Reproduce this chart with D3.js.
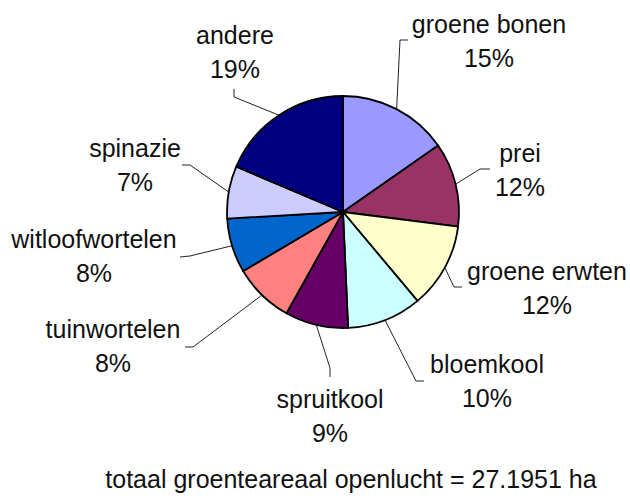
<!DOCTYPE html>
<html lang="nl">
<head>
    <meta charset="UTF-8">
    <title>Groenteareaal openlucht</title>
    <script src="https://d3js.org/d3.v7.min.js"></script>
    <style>
        body { margin: 0; background: #fff; font-family: "Liberation Sans", Arial, sans-serif; }
        .label { font-size: 25px; fill: #111; text-anchor: middle; }
        .leader { fill: none; stroke: #222; stroke-width: 1; }
        .slice { stroke: #000; stroke-width: 1.8; }
    </style>
</head>
<body>
    <svg width="630" height="500"></svg>
    <script>
        // data (share of area, %)
        const categories = ["groene bonen", "prei", "groene erwten", "bloemkool", "spruitkool",
                            "tuinwortelen", "witloofwortelen", "spinazie", "andere"];
        const values = [15.3, 11.7, 11.9, 10.4, 8.8, 8.4, 7.6, 7.3, 18.6];
        const colors = ["#9999FF", "#993366", "#FFFFCC", "#CCFFFF", "#660066",
                        "#FF8080", "#0066CC", "#CCCCFF", "#000080"];
        const footer = "totaal groenteareaal openlucht = 27.1951 ha";

        // label placement (layout only): text centre x, first baseline y, leader elbow
        const labelLayout = [
            { x: 489, y: 33,  elbow: [[408, 40], [400, 40]] },
            { x: 520, y: 162, elbow: [[490, 169], [480, 169]] },
            { x: 547, y: 280, elbow: [[462, 287], [454, 287]] },
            { x: 487, y: 373, elbow: [[424, 381], [416, 381]] },
            { x: 330, y: 408, elbow: [[330, 377], [330, 368]] },
            { x: 113, y: 338, elbow: [[185, 347], [193, 347]] },
            { x: 94,  y: 248, elbow: [[180, 257], [190, 256]] },
            { x: 135, y: 157, elbow: [[182, 165], [190, 165]] },
            { x: 235, y: 44,  elbow: [[234, 89], [234, 97]] }
        ];

        const cx = 343, cy = 212, r = 116;
        const svg = d3.select("svg");
        const g = svg.append("g").attr("transform", `translate(${cx},${cy})`);

        const total = d3.sum(values);
        const pie = d3.pie().sort(null).value(d => d)(values);
        const arc = d3.arc().innerRadius(0).outerRadius(r);

        g.selectAll("path.slice")
         .data(pie)
         .enter().append("path")
         .attr("class", "slice")
         .attr("fill", (d, i) => colors[i])
         .attr("d", arc);

        // leader lines: from label elbow to the pie edge at the slice's mid angle
        pie.forEach((d, i) => {
            const mid = (d.startAngle + d.endAngle) / 2;
            const edge = [cx + r * Math.sin(mid), cy - r * Math.cos(mid)];
            const pts = labelLayout[i].elbow.concat([edge]);
            svg.append("path")
               .attr("class", "leader")
               .attr("d", d3.line()(pts));
        });

        // labels
        pie.forEach((d, i) => {
            const L = labelLayout[i];
            const t = svg.append("text").attr("class", "label");
            t.append("tspan").attr("x", L.x).attr("y", L.y).text(categories[i]);
            t.append("tspan").attr("x", L.x).attr("y", L.y + 33.5)
             .text(Math.round(values[i] / total * 100) + "%");
        });

        svg.append("text")
           .attr("class", "label")
           .attr("x", 351)
           .attr("y", 488)
           .text(footer);
    </script>
</body>
</html>
